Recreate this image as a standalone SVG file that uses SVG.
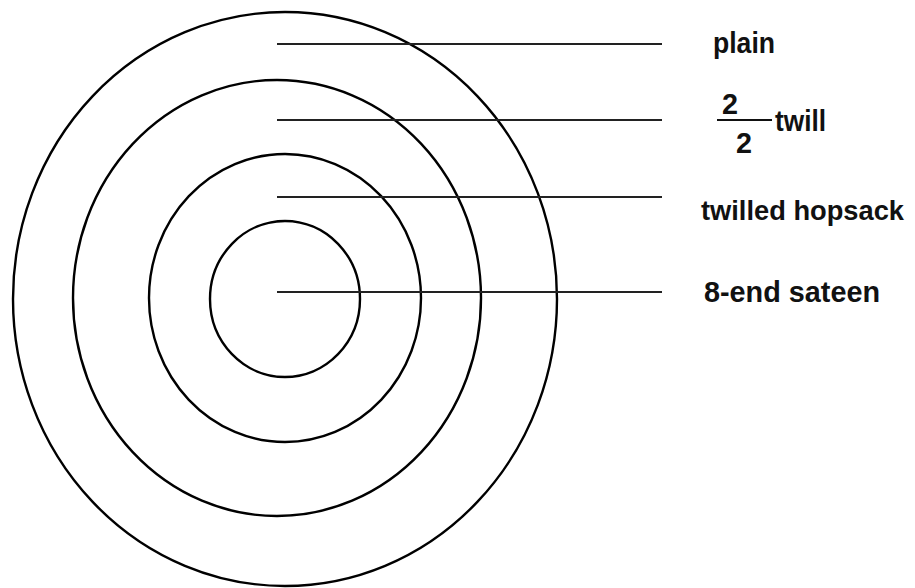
<svg xmlns="http://www.w3.org/2000/svg" width="915" height="588" viewBox="0 0 915 588">
<style>
.ring{fill:none;stroke:#000;stroke-width:2.4}
.lead{stroke:#222;stroke-width:2}
.lbl{font-family:"Liberation Sans",Arial,sans-serif;font-size:30px;font-weight:bold;fill:#111}
</style>
<rect width="915" height="588" fill="#fff"/>
<g id="ring-plain"><ellipse class="ring" cx="285" cy="299" rx="272" ry="287"/></g>
<g id="ring-twill"><ellipse class="ring" cx="277" cy="298" rx="204" ry="218"/></g>
<g id="ring-hopsack"><ellipse class="ring" cx="285" cy="298" rx="136" ry="144"/></g>
<g id="ring-sateen"><ellipse class="ring" cx="285" cy="299" rx="75" ry="78"/></g>
<g id="connectors">
<line class="lead" x1="277" y1="44" x2="662" y2="44"/>
<line class="lead" x1="277" y1="120" x2="662" y2="120"/>
<line class="lead" x1="277" y1="197" x2="662" y2="197"/>
<line class="lead" x1="277" y1="292" x2="662" y2="292"/>
</g>
<g id="label-plain"><text class="lbl" x="713" y="53" textLength="62" lengthAdjust="spacingAndGlyphs">plain</text></g>
<g id="label-twill">
<text class="lbl" x="730" y="114" text-anchor="middle" textLength="16" lengthAdjust="spacingAndGlyphs">2</text>
<line x1="717" y1="120" x2="772" y2="120" stroke="#111" stroke-width="2"/>
<text class="lbl" x="744" y="153" text-anchor="middle" textLength="16" lengthAdjust="spacingAndGlyphs">2</text>
<text class="lbl" x="775" y="131" textLength="51" lengthAdjust="spacingAndGlyphs">twill</text>
</g>
<g id="label-hopsack"><text class="lbl" x="701" y="220" style="font-size:28px" textLength="203" lengthAdjust="spacingAndGlyphs">twilled hopsack</text></g>
<g id="label-sateen"><text class="lbl" x="704" y="302" textLength="176" lengthAdjust="spacingAndGlyphs">8-end sateen</text></g>
</svg>
